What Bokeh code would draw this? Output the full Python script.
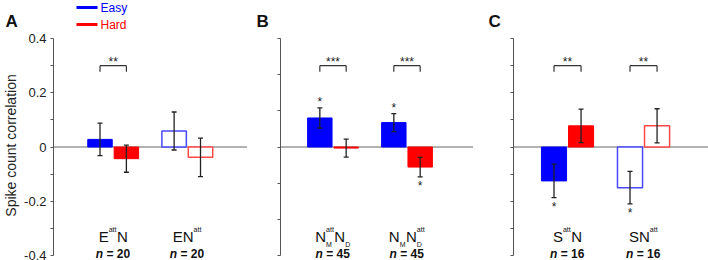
from bokeh.plotting import figure
from bokeh.layouts import row, column
from bokeh.models import ColumnDataSource, FixedTicker, Span, Range1d, CustomJSTickFormatter
from bokeh.core.properties import value
from bokeh.embed import file_html
from bokeh.resources import INLINE

# ---------------- data ----------------
conditions = ["Easy", "Hard"]
colors = ["#0000ff", "#ff0000"]
outline_colors = ["#4848ff", "#ff4848"]
panel_letters = ["A", "B", "C"]

# category labels: tokens of (main letter, subscript, superscript)
a_labels = [[("E", "", "att"), ("N", "", "")], [("E", "", ""), ("N", "", "att")]]
a_n = [20, 20]
a_easy = [0.028, 0.059]
a_easy_err = [0.060, 0.070]
a_hard = [-0.043, -0.038]
a_hard_err = [0.050, 0.071]
a_filled = [True, False]
a_pair_sig = ["**", ""]
a_easy_sig = ["", ""]
a_hard_sig = ["", ""]

b_labels = [[("N", "M", "att"), ("N", "D", "")], [("N", "M", ""), ("N", "D", "att")]]
b_n = [45, 45]
b_easy = [0.107, 0.090]
b_easy_err = [0.037, 0.033]
b_hard = [-0.004, -0.074]
b_hard_err = [0.033, 0.036]
b_filled = [True, True]
b_pair_sig = ["***", "***"]
b_easy_sig = ["*", "*"]
b_hard_sig = ["", "*"]

c_labels = [[("S", "", "att"), ("N", "", "")], [("S", "", ""), ("N", "", "att")]]
c_n = [16, 16]
c_easy = [-0.125, -0.150]
c_easy_err = [0.062, 0.060]
c_hard = [0.078, 0.078]
c_hard_err = [0.062, 0.063]
c_filled = [True, False]
c_pair_sig = ["**", "**"]
c_easy_sig = ["*", "*"]
c_hard_sig = ["", ""]

y_label = "Spike count correlation"

# ---------------- layout helpers ----------------
FONT = "Liberation Sans"
TOP_H = 30                   # height of the strip holding panel letters and legend
PXY = 1 / 271.25             # data units per vertical pixel
ZERO_PX = 146.5              # page pixel row of y = 0
Y_TOP = (ZERO_PX - TOP_H) * PXY
Y_BOT = -(260 - ZERO_PX) * PXY


def ypx(py):
    return (ZERO_PX - py) * PXY


MET = {'E': 667, 'N': 722, 'S': 667, 'M': 833, 'D': 722, 'a': 556, 't': 278}


def tw(s, size):
    return sum(MET[c] for c in s) * size / 1000.0


MAIN, SMALL = 15, 7
OFF = 0.178
BARW = 0.33


def make_panel(width, border_left, x_start, unit, labels, ns, easy, easy_err, hard, hard_err,
               filled, pair_sig, easy_sig, hard_sig, ticks, minor, tick_labels):
    frame_w = width - border_left
    x_end = x_start + frame_w / unit
    p = figure(width=width, height=260 - TOP_H, x_range=Range1d(x_start, x_end),
               y_range=Range1d(Y_BOT, Y_TOP), output_backend="svg", toolbar_location=None,
               min_border_left=border_left, min_border_right=0, min_border_top=0,
               min_border_bottom=0, x_axis_location=None)
    p.grid.visible = False
    p.outline_line_color = None
    p.background_fill_color = "white"
    p.border_fill_color = "white"

    ax = p.yaxis[0]
    ax.bounds = (-0.4, 0.4)
    ax.ticker = FixedTicker(ticks=ticks, minor_ticks=minor)
    ax.major_tick_out = 3
    ax.major_tick_in = 0
    ax.minor_tick_out = 3
    ax.minor_tick_in = 0
    ax.axis_line_color = "#555555"
    ax.major_tick_line_color = "#555555"
    ax.minor_tick_line_color = "#555555"
    if tick_labels:
        ax.major_label_overrides = {t: ("0" if t == 0 else f"{t:.1f}") for t in ticks}
        ax.major_label_text_font = FONT
        ax.major_label_text_font_size = "13px"
        ax.major_label_text_color = "#222222"
        ax.major_label_standoff = 4
        ax.axis_label = y_label
        ax.axis_label_text_font = FONT
        ax.axis_label_text_font_size = "14px"
        ax.axis_label_text_font_style = "normal"
        ax.axis_label_text_color = "#222222"
        ax.axis_label_standoff = 2
    else:
        ax.formatter = CustomJSTickFormatter(code="return ''")
        ax.major_label_standoff = 0

    p.add_layout(Span(location=0, dimension="width", line_color="#666666",
                      line_width=1.2, level="underlay"))

    groups = [1, 2]
    bx, btop, bfill, bline, blw = [], [], [], [], []
    ex, ev, ee = [], [], []
    sx, sy, st = [], [], []
    for gi, g in enumerate(groups):
        for ci, (vals, errs, sigs, off) in enumerate(
                [(easy, easy_err, easy_sig, -OFF), (hard, hard_err, hard_sig, OFF)]):
            x = g + off
            v, e = vals[gi], errs[gi]
            bx.append(x)
            btop.append(v)
            if filled[gi]:
                bfill.append(colors[ci]); bline.append(colors[ci]); blw.append(1.0)
            else:
                bfill.append("white"); bline.append(outline_colors[ci]); blw.append(1.5)
            ex.append(x); ev.append(v); ee.append(e)
            if sigs[gi]:
                sx.append(x)
                sy.append(v + e + 6 * PXY if v >= 0 else v - e - 9.5 * PXY)
                st.append(sigs[gi])
    src = ColumnDataSource(dict(x=bx, top=btop, fill=bfill, line=bline, lw=blw))
    p.vbar(x="x", top="top", bottom=0, width=BARW, fill_color="fill", line_color="line",
           line_width="lw", source=src)

    cap = 2.5 / unit
    x0s, y0s, x1s, y1s = [], [], [], []
    for x, v, e in zip(ex, ev, ee):
        x0s += [x, x - cap, x - cap]
        x1s += [x, x + cap, x + cap]
        y0s += [v - e, v + e, v - e]
        y1s += [v + e, v + e, v - e]
    p.segment(x0=x0s, y0=y0s, x1=x1s, y1=y1s, line_color="#222222", line_width=1.3)

    if sx:
        p.text(x=sx, y=sy, text=st, text_align="center", text_baseline="alphabetic",
               text_font=value(FONT), text_font_size="12px", text_color="#222222")

    # significance brackets
    bt, bl = 0.300, 0.277
    kx0, ky0, kx1, ky1 = [], [], [], []
    px_, py_, pt_ = [], [], []
    for gi, g in enumerate(groups):
        if pair_sig[gi]:
            a, b = g - OFF, g + OFF
            kx0 += [a, a, b]; ky0 += [bt, bl, bl]
            kx1 += [b, a, b]; ky1 += [bt, bt, bt]
            px_.append(g); py_.append(bt + 4 * PXY); pt_.append(pair_sig[gi])
    if kx0:
        p.segment(x0=kx0, y0=ky0, x1=kx1, y1=ky1, line_color="#333333", line_width=1.2)
        p.text(x=px_, y=py_, text=pt_, text_align="center", text_baseline="alphabetic",
               text_font=value(FONT), text_font_size="12px", text_color="#222222")

    # category labels with sub/superscripts
    mx, mo, mt = [], [], []
    ux, uo, ut = [], [], []
    sx2, so2, st2 = [], [], []
    for gi, g in enumerate(groups):
        toks = labels[gi]
        total = 0
        for m, sb, sp in toks:
            total += tw(m, MAIN)
            if sb or sp:
                total += max(tw(sb, SMALL), tw(sp, SMALL)) + 0.5
        cur = -total / 2
        for m, sb, sp in toks:
            mx.append(g); mo.append(cur); mt.append(m)
            cur += tw(m, MAIN)
            if sb:
                ux.append(g); uo.append(cur); ut.append(sb)
            if sp:
                sx2.append(g); so2.append(cur); st2.append(sp)
            if sb or sp:
                cur += max(tw(sb, SMALL), tw(sp, SMALL)) + 0.5
    p.text(x=mx, y=[ypx(236)] * len(mx), text=mt, x_offset=mo, text_align="left",
           text_baseline="alphabetic", text_font=value(FONT), text_font_size=f"{MAIN}px",
           text_color="#111111")
    if ux:
        p.text(x=ux, y=[ypx(244)] * len(ux), text=ut, x_offset=uo, text_align="left",
               text_baseline="alphabetic", text_font=value(FONT), text_font_size=f"{SMALL}px",
               text_color="#111111")
    if sx2:
        p.text(x=sx2, y=[ypx(228.5)] * len(sx2), text=st2, x_offset=so2, text_align="left",
               text_baseline="alphabetic", text_font=value(FONT), text_font_size=f"{SMALL}px",
               text_color="#111111")

    # n = ... labels
    p.text(x=groups, y=[ypx(253)] * 2, text=["n"] * 2, x_offset=[-17.5] * 2, text_align="left",
           text_baseline="alphabetic", text_font=value(FONT), text_font_size="12px",
           text_font_style="bold italic", text_color="#111111")
    p.text(x=groups, y=[ypx(253)] * 2, text=[f"= {n}" for n in ns], x_offset=[-6.8] * 2,
           text_align="left", text_baseline="alphabetic", text_font=value(FONT),
           text_font_size="12px", text_font_style="bold", text_color="#111111")
    return p


ticks_a = [-0.4, -0.2, 0, 0.2, 0.4]
minor_a = [-0.3, -0.1, 0.1, 0.3]
ticks_b = [-0.4, -0.4 * 2 / 3, -0.4 / 3, 0, 0.4 / 3, 0.4 * 2 / 3, 0.4]

pa = make_panel(247, 52, 0.1946, 74.5, a_labels, a_n, a_easy, a_easy_err, a_hard, a_hard_err,
                a_filled, a_pair_sig, a_easy_sig, a_hard_sig, ticks_a, minor_a, True)
pb = make_panel(226, 33, 0.2905, 74.0, b_labels, b_n, b_easy, b_easy_err, b_hard, b_hard_err,
                b_filled, b_pair_sig, b_easy_sig, b_hard_sig, ticks_b, [], False)
pc = make_panel(235, 40, 0.289, 76.0, c_labels, c_n, c_easy, c_easy_err, c_hard, c_hard_err,
                c_filled, c_pair_sig, c_easy_sig, c_hard_sig, ticks_a, minor_a, False)

# ---------------- top strip: panel letters and legend ----------------
top = figure(width=708, height=TOP_H, x_range=Range1d(0, 708), y_range=Range1d(TOP_H, 0),
             output_backend="svg", toolbar_location=None, min_border=0,
             x_axis_location=None, y_axis_location=None)
top.grid.visible = False
top.outline_line_color = None
top.background_fill_color = "white"
top.border_fill_color = "white"

top.text(x=[5, 256, 488], y=[21, 21, 21], text=panel_letters, text_align="left",
         text_baseline="alphabetic", text_font=value(FONT), text_font_size="17px",
         text_font_style="bold", text_color="#111111")
top.segment(x0=[76, 76], x1=[97, 97], y0=[7, 24], y1=[7, 24], line_color=colors, line_width=3)
top.text(x=[100, 100], y=[7, 24], text=conditions, text_align="left",
         text_baseline="middle", text_font=value(FONT), text_font_size="12px",
         text_color=colors)

layout = column(top, row(pa, pb, pc, spacing=0), spacing=0)
open("out.html", "w").write(file_html(layout, INLINE))
